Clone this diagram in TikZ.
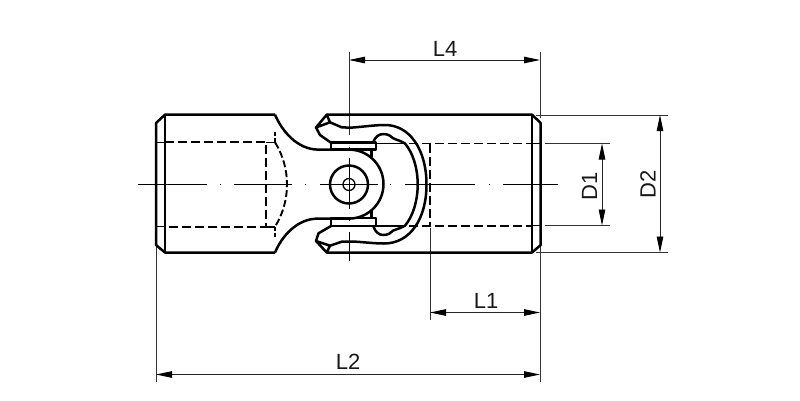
\documentclass[tikz,border=0pt]{standalone}
\usepackage{fontspec}
\setmainfont{Liberation Sans}
\usetikzlibrary{arrows.meta}
\tikzset{
  thickln/.style={line width=2.5pt,line join=round},
  hid/.style={line width=1.9pt,dash pattern=on 9pt off 4pt},
  thinln/.style={line width=0.9pt,black!80},
  centerln/.style={line width=1pt,black},
  dimln/.style={line width=0.9pt,black!85,{Triangle[length=16pt,width=6.5pt,black]}-{Triangle[length=16pt,width=6.5pt,black]}},
  lab/.style={font=\fontsize{22}{24}\selectfont,inner sep=0pt,text=black!90}
}
\begin{document}
\begin{tikzpicture}[x=1pt,y=-1pt]
\useasboundingbox (0,0) rectangle (800,400);
\fill[white] (0,0) rectangle (800,400);
% coordinates for dimension ends
\coordinate (l4a) at (349,60); \coordinate (l4b) at (540,60);
\coordinate (l1a) at (430,312.5); \coordinate (l1b) at (540,312.5);
\coordinate (l2a) at (156,374.5); \coordinate (l2b) at (540,374.5);
\coordinate (d1a) at (602,143.5); \coordinate (d1b) at (602,225.5);
\coordinate (d2a) at (660,115); \coordinate (d2b) at (660,252.5);
% extension lines
\draw[thinln] (349,52)--(349,135);
\draw[thinln] (540,52)--(540,118);
\draw[thinln] (540,245)--(540,382);
\draw[thinln] (156,247)--(156,382);
\draw[thinln] (430,228)--(430,320);
\draw[thinln] (536,115)--(668,115);
\draw[thinln] (536,252.5)--(668,252.5);
\draw[thinln] (545,143.5)--(610,143.5);
\draw[thinln] (545,225.5)--(610,225.5);
% dimensions
\draw[dimln] (l4a)--(l4b);
\draw[dimln] (l1a)--(l1b);
\draw[dimln] (l2a)--(l2b);
\draw[dimln] (d1a)--(d1b);
\draw[dimln] (d2a)--(d2b);
\node[lab] (tl4) at (445,49) {L4};
\node[lab] (tl1) at (486,301) {L1};
\node[lab] (tl2) at (348,362) {L2};
\node[lab,rotate=90] (td1) at (589.5,186) {D1};
\node[lab,rotate=90] (td2) at (648,184) {D2};
% centre lines
\draw[centerln] (138,184.5)--(207,184.5) (219.5,184.5)--(220.5,184.5) (234,184.5)--(292,184.5)
  (304.5,184.5)--(305.5,184.5) (320,184.5)--(378,184.5) (390,184.5)--(391,184.5) (405,184.5)--(475,184.5)
  (489,184.5)--(490,184.5) (503,184.5)--(558,184.5);
\draw[centerln] (349,147)--(349,148) (349,158)--(349,209) (349,220)--(349,221) (349,232)--(349,261);
% left body
\draw[thickln] (275,114.7)--(165,114.7)--(156,123)--(156,245)--(165,252.5)--(275,252.5);
\draw[thickln] (165,114.7)--(165,252.5);
\draw[thickln] (275,114.7) .. controls (282,131) and (297,149.3) .. (318,149.6)--(331,149.6);
\draw[thickln] (275,252.5) .. controls (282,236) and (297,218.6) .. (318,218.6)--(331,218.6);
\draw[line width=1.1pt] (156,142.3)--(165,142.3) (156,226.7)--(165,226.7);
\draw[hid] (165,142.3)--(266,142.3)--(266,226.7)--(165,226.7);
\draw[line width=1.6pt] (266,142.3)--(275,142.3) (266,226.7)--(275,226.7);
\draw[hid,dash pattern=on 7pt off 3pt] (275,142.3) .. controls (283,155) and (287,170) .. (287,184.5) .. controls (287,199) and (283,214) .. (275,226.7);
\draw[hid,dash pattern=on 4pt off 2pt] (275,142.3)--(275,132) (275,226.7)--(275,237);
% hub
\draw[thickln] (331,149.6)--(349,149.6) arc[start angle=-90,end angle=90,radius=34.5]--(331,218.6);
\draw[thickln] (371.7,149.3)--(371.7,157) (371.7,218)--(371.7,211);
\draw[thickln] (349,184.5) circle[radius=19];
\draw[line width=1.3pt] (349,184.5) circle[radius=6];
% pins
\draw[thickln] (331,142.7) rectangle (376,149.6);
\draw[thickln] (331,218) rectangle (376,226);
% right body
\draw[thickln] (326.7,114.7)--(532,114.7)--(540.7,123)--(540.7,245)--(532,252.5)--(326.7,252.5);
\draw[thickln] (532,114.7)--(532,252.5);
% claws and fork
\draw[thickln] (331,142.7)--(320,135)--(316,127.5)--(326.7,114.7)--(330,122.3)--(316,127.5);
\draw[thickln] (330,122.3)--(341.7,127.3)--(350,127.7) .. controls (362,127) and (374,125) .. (385,125) .. controls (410,125) and (426.5,150) .. (426.5,184.5) .. controls (426.5,219) and (410,243.5) .. (384,243.5) .. controls (372,243.5) and (360,241.5) .. (350,241.5)--(341.7,241.7)--(330,245.7);
\draw[thickln] (331,226)--(318.5,233.3)--(316,241)--(326.7,252.5)--(330,245.7)--(316,241);
\draw[thickln] (373.3,142) .. controls (375,137) and (379,134) .. (383.3,134) .. controls (388,134) and (391,136) .. (393.3,138.3) .. controls (397,140) and (401,141) .. (405,143.5) .. controls (413,153) and (417.7,168) .. (417.7,184.5) .. controls (417.7,201) and (413,216) .. (405,225.7) .. controls (401,228) and (397,229) .. (393.3,230.5) .. controls (391,233) and (388,235) .. (383.3,235) .. controls (379,235) and (375,232) .. (373.3,226);
\draw[line width=1.6pt] (376,143.5)--(405,143.5) (376,225.7)--(405,225.7);
% hidden right
\draw[hid] (409,143.5)--(532,143.5) (409,225.7)--(532,225.7);
\draw[hid] (430,143.5)--(430,225.7);
\draw[line width=1.1pt] (532,143.5)--(540.7,143.5) (532,225.7)--(540.7,225.7);
\end{tikzpicture}
\end{document}
